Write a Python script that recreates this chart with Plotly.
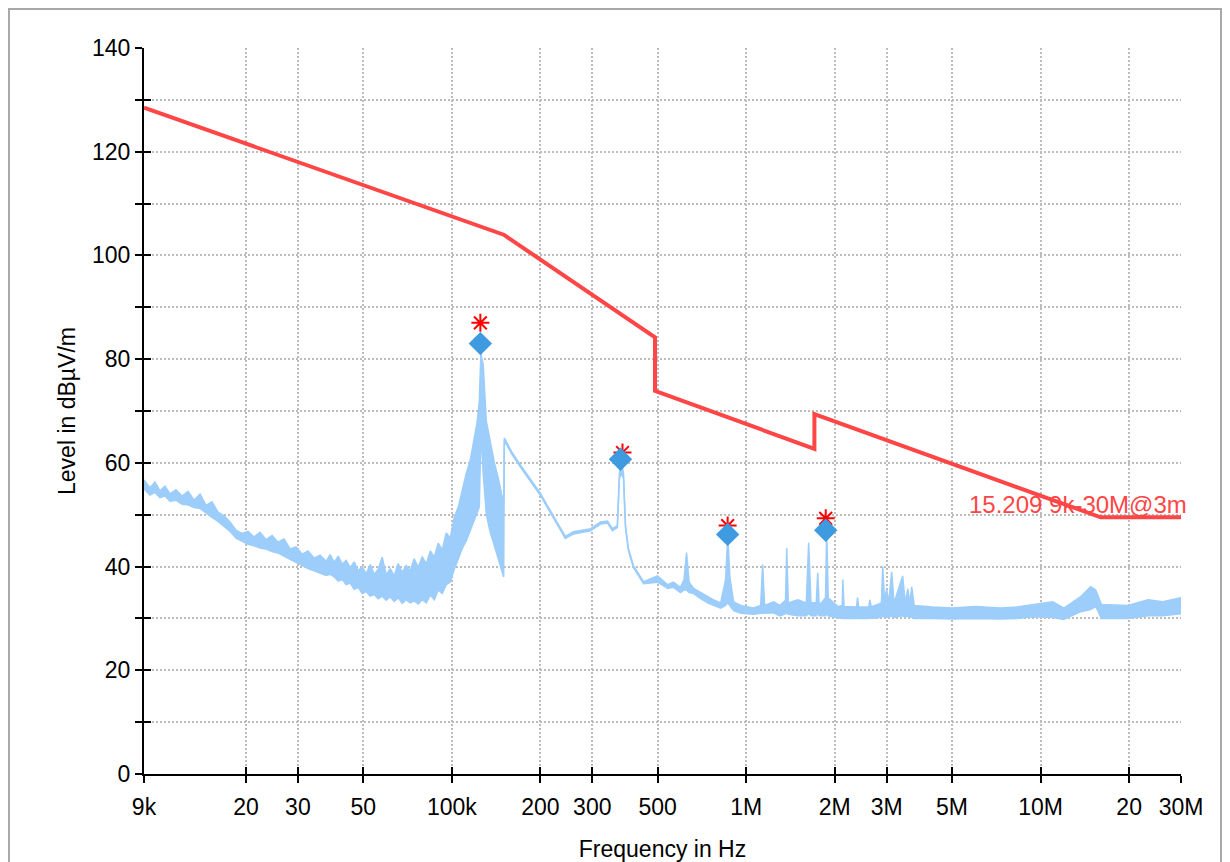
import math
import plotly.graph_objects as go

# ---------------- data ----------------
# Limit line (FCC 15.209, 9k-30M @ 3 m), breakpoints
limit_freq_hz = [9e3, 150e3, 490e3, 490e3, 1.705e6, 1.705e6, 16e6, 30e6]
limit_level_db = [128.5, 104.0, 84.2, 73.9, 62.7, 69.4, 49.5, 49.5]

# Measured spectrum envelope (light blue trace): frequency, upper and lower edge
meas_freq_hz = [
    9.0e3, 9.429e3, 9.804e3, 10.196e3, 10.60e3, 11.03e3, 11.56e3, 12.12e3, 12.70e3, 13.31e3,
    13.95e3, 14.62e3, 15.32e3, 16.06e3, 16.83e3, 17.64e3, 18.49e3, 19.38e3, 20.31e3, 21.29e3,
    22.31e3, 23.38e3, 24.51e3, 25.68e3, 26.92e3, 28.22e3, 29.57e3, 31.0e3, 32.49e3, 34.05e3,
    35.69e3, 37.41e3, 38.62e3, 39.85e3, 41.12e3, 42.42e3, 43.77e3, 45.16e3, 46.59e3, 48.07e3,
    49.6e3, 51.17e3, 52.8e3, 54.48e3, 56.21e3, 58.0e3, 59.84e3, 61.74e3, 63.7e3, 65.73e3,
    67.82e3, 69.97e3, 72.2e3, 74.5e3, 76.9e3, 79.3e3, 81.9e3, 84.5e3, 87.2e3, 89.9e3,
    92.8e3, 95.7e3, 98.8e3, 101.9e3, 105.2e3, 108.5e3, 112.0e3, 115.5e3, 119.2e3, 122e3,
    124e3, 125.5e3, 127.8e3, 131.0e3, 135.2e3, 139.5e3, 143.9e3, 148.5e3, 150e3, 150.8e3,
    160.6e3, 171e3, 185e3, 200e3, 211e3, 221e3, 234e3, 243e3, 259e3, 274e3,
    296e3, 320e3, 338e3, 351e3, 365e3, 371e3, 376e3, 383e3, 389e3, 398e3,
    414e3, 448e3, 500e3, 541e3, 566e3, 598e3, 615e3, 627e3, 640e3, 663e3,
    700e3, 739e3, 780e3, 819e3, 851e3, 866e3, 880e3, 906e3, 958e3, 1.06e6,
    1.12e6, 1.137e6, 1.155e6, 1.24e6, 1.30e6, 1.36e6, 1.373e6, 1.39e6, 1.496e6, 1.60e6,
    1.63e6, 1.66e6, 1.73e6, 1.75e6, 1.77e6, 1.86e6, 1.877e6, 1.90e6, 2.05e6, 2.12e6,
    2.13e6, 2.15e6, 2.37e6, 2.39e6, 2.41e6, 2.61e6, 2.63e6, 2.66e6, 2.88e6, 2.91e6,
    2.95e6, 3.00e6, 3.05e6, 3.12e6, 3.18e6, 3.40e6, 3.47e6, 3.54e6, 3.60e6, 3.65e6,
    3.72e6, 4.3e6, 5.0e6, 6.0e6, 7.3e6, 8.3e6, 9.5e6, 11.0e6, 12.0e6, 13.7e6,
    14.8e6, 15.4e6, 16.1e6, 17.5e6, 19.8e6, 23.2e6, 26.0e6, 30.0e6,
]
meas_upper_db = [
    56.7, 55.2, 56.3, 54.6, 55.5, 54.0, 54.8, 53.6, 54.5, 52.8,
    54.0, 51.8, 52.5, 50.5, 49.8, 48.6, 47.0, 46.4, 46.8, 45.7,
    46.6, 45.2, 46.0, 44.7, 45.3, 43.4, 43.8, 42.4, 43.0, 41.6,
    42.2, 41.0, 42.3, 40.8, 42.0, 40.5, 41.2, 39.8, 40.9, 39.2,
    40.0, 38.6, 40.4, 38.5, 39.5, 41.8, 38.4, 39.6, 38.2, 40.6,
    38.9, 40.2, 39.2, 41.5, 39.8, 41.9, 40.5, 43.0, 41.8, 44.5,
    43.2, 46.5, 45.5, 49.5, 51.5, 55.0, 58.0, 60.5, 64.5, 68.0,
    72.0, 81.0, 79.0, 68.0, 64.0, 60.0, 57.0, 53.0, 52.0, 64.8,
    61.9, 59.6, 56.9, 54.1, 51.8, 49.8, 47.3, 45.8, 46.7, 46.9,
    47.3, 48.6, 48.8, 47.3, 47.9, 58.0, 60.5, 58.0, 47.9, 43.5,
    40.2, 37.1, 38.2, 36.5, 37.0, 36.0, 37.5, 42.7, 37.0, 35.8,
    35.0, 34.3, 33.5, 33.0, 37.5, 46.0, 38.0, 33.2, 32.5, 32.0,
    32.5, 40.4, 32.5, 33.2, 32.5, 33.5, 43.6, 33.0, 33.6, 33.0,
    44.6, 33.0, 33.0, 38.8, 32.5, 34.0, 47.0, 34.0, 32.3, 32.5,
    37.5, 32.3, 32.2, 34.0, 32.2, 32.2, 33.6, 32.2, 33.0, 40.0,
    33.5, 35.7, 33.0, 39.0, 33.0, 38.2, 33.0, 35.7, 33.0, 36.1,
    32.5, 32.2, 32.0, 32.3, 32.0, 32.2, 32.7, 33.2, 32.0, 34.2,
    36.1, 35.5, 32.7, 32.6, 32.5, 33.6, 33.2, 34.0,
]
meas_lower_db = [
    55.0, 53.8, 54.3, 53.3, 53.6, 52.6, 52.8, 52.0, 51.9, 51.4,
    51.2, 50.3, 49.5, 48.7, 47.8, 46.8, 45.5, 44.9, 44.3, 44.0,
    43.6, 43.4, 42.9, 42.6, 42.0, 41.4, 40.8, 40.3, 39.6, 39.2,
    38.7, 38.3, 38.5, 38.0, 37.2, 37.5, 36.5, 36.8, 35.6, 36.0,
    34.8, 35.2, 34.3, 34.6, 33.8, 34.3, 33.5, 34.2, 33.3, 34.0,
    32.9, 33.6, 33.0, 33.4, 32.8, 33.6, 33.0, 34.5, 33.6, 35.5,
    34.8, 36.5, 37.0, 39.5, 41.5, 43.5, 45.0, 47.0, 49.0, 50.5,
    51.5, 66.0, 58.0, 50.0, 46.5, 44.0, 41.5, 38.5, 38.0, 64.3,
    61.5, 59.2, 56.5, 53.7, 51.4, 49.4, 46.9, 45.4, 46.3, 46.5,
    46.9, 48.2, 48.4, 46.9, 47.5, 57.0, 58.0, 57.0, 47.5, 43.1,
    39.8, 36.7, 37.0, 35.8, 36.0, 35.0, 35.5, 35.5, 35.0, 34.8,
    33.8, 33.0, 32.5, 32.0, 32.5, 33.0, 32.5, 31.5, 31.0, 30.8,
    31.0, 31.0, 31.0, 31.1, 30.5, 30.8, 31.0, 30.8, 30.5, 30.5,
    31.0, 30.5, 30.5, 31.0, 30.5, 30.5, 31.0, 30.5, 30.1, 30.1,
    30.0, 30.0, 30.0, 30.2, 30.0, 30.0, 30.2, 30.0, 30.2, 30.5,
    30.2, 30.5, 30.2, 30.5, 30.2, 30.5, 30.2, 30.5, 30.2, 30.3,
    30.0, 30.0, 29.9, 30.0, 29.9, 30.0, 30.3, 30.2, 29.8, 31.3,
    31.7, 32.3, 30.0, 30.0, 30.0, 30.5, 30.5, 30.9,
]

# Peak markers (blue diamonds) and quasi-peak results (red asterisks)
peak_freq_hz = [125e3, 374e3, 865e3, 1.863e6]
peak_level_db = [83.0, 60.7, 46.2, 47.0]
qp_freq_hz = [125e3, 380e3, 865e3, 1.863e6]
qp_level_db = [87.0, 62.0, 47.9, 49.3]

limit_label = "15.209 9k-30M@3m"

x_tick_vals = [9e3, 2e4, 3e4, 5e4, 1e5, 2e5, 3e5, 5e5, 1e6, 2e6, 3e6, 5e6, 1e7, 2e7, 3e7]
x_tick_text = ["9k", "20", "30", "50", "100k", "200", "300", "500",
               "1M", "2M", "3M", "5M", "10M", "20", "30M"]
y_tick_vals = list(range(0, 141, 10))
y_tick_text = [str(v) if v % 20 == 0 else "" for v in y_tick_vals]

# ---------------- styling ----------------
FONT = "Liberation Sans, Arial, sans-serif"
RED = "#ff4646"
BLUE_LIGHT = "#9ccdfb"
BLUE_MARK = "#3f9be0"
GRID = "#bcbcbc"

xr = [math.log10(9e3), math.log10(3e7)]
yr = [0, 140]

fig = go.Figure()

# measured trace as a filled envelope
fig.add_trace(go.Scatter(x=meas_freq_hz, y=meas_lower_db, mode="lines",
                         line=dict(color=BLUE_LIGHT, width=1.5), hoverinfo="skip",
                         showlegend=False))
fig.add_trace(go.Scatter(x=meas_freq_hz, y=meas_upper_db, mode="lines",
                         line=dict(color=BLUE_LIGHT, width=1.5), fill="tonexty",
                         fillcolor=BLUE_LIGHT, showlegend=False))

# limit line
fig.add_trace(go.Scatter(x=limit_freq_hz, y=limit_level_db, mode="lines",
                         line=dict(color=RED, width=4), showlegend=False))

# red asterisks then diamonds on top
fig.add_trace(go.Scatter(x=qp_freq_hz, y=qp_level_db, mode="markers",
                         marker=dict(symbol="asterisk-open", size=15, color="#ff0000",
                                     line=dict(color="#ff0000", width=2)),
                         showlegend=False))
fig.add_trace(go.Scatter(x=peak_freq_hz, y=peak_level_db, mode="markers",
                         marker=dict(symbol="diamond", size=18, color=BLUE_MARK,
                                     line=dict(width=0)),
                         showlegend=False))

# invisible trace for the overlay axes (inner halves of the crossing ticks)
fig.add_trace(go.Scatter(x=[x_tick_vals[0]], y=[0], xaxis="x2", yaxis="y2",
                         mode="markers", marker=dict(opacity=0), hoverinfo="skip",
                         showlegend=False))

fig.add_annotation(x=xr[1], y=52, xref="x", yref="y", text=limit_label,
                   showarrow=False, xanchor="right", yanchor="middle", xshift=8,
                   font=dict(family=FONT, size=24, color=RED))

axis_font = dict(family=FONT, size=23, color="#000000")

fig.update_layout(
    width=1222, height=854,
    margin=dict(l=136, r=49, t=40, b=88, autoexpand=False),
    paper_bgcolor="#ffffff", plot_bgcolor="#ffffff",
    font=dict(family=FONT, size=23, color="#000000"),
    xaxis=dict(type="log", range=xr, tickvals=x_tick_vals, ticktext=x_tick_text,
               showgrid=True, gridcolor=GRID, griddash="2px,2px", gridwidth=1.5,
               showline=True, linecolor="#000000", linewidth=2,
               ticks="outside", ticklen=7, tickwidth=2, tickcolor="#000000",
               tickfont=axis_font, zeroline=False, ticklabelstandoff=4,
               automargin=False,
               title=dict(text="Frequency in Hz", font=axis_font, standoff=28)),
    yaxis=dict(range=yr, tickvals=y_tick_vals, ticktext=y_tick_text,
               showgrid=True, gridcolor=GRID, griddash="2px,2px", gridwidth=1.5,
               showline=True, linecolor="#000000", linewidth=2,
               ticks="outside", ticklen=7, tickwidth=2, tickcolor="#000000",
               tickfont=axis_font, zeroline=False, automargin=False,
               title=dict(text="Level in dBµV/m", font=axis_font, standoff=10)),
    xaxis2=dict(type="log", range=xr, overlaying="x", side="bottom",
                tickvals=x_tick_vals, showticklabels=False, showgrid=False,
                showline=False, zeroline=False, ticks="inside", ticklen=7,
                tickwidth=2, tickcolor="#000000", automargin=False),
    yaxis2=dict(range=yr, overlaying="y", side="left",
                tickvals=y_tick_vals, showticklabels=False, showgrid=False,
                showline=False, zeroline=False, ticks="inside", ticklen=7,
                tickwidth=2, tickcolor="#000000", automargin=False),
    shapes=[dict(type="rect", xref="paper", yref="paper",
                 x0=-0.1302, x1=1.0386, y0=-0.14, y1=1.0537,
                 line=dict(color="#a8a8a8", width=2), layer="below")],
)

fig.write_html("out.html")
